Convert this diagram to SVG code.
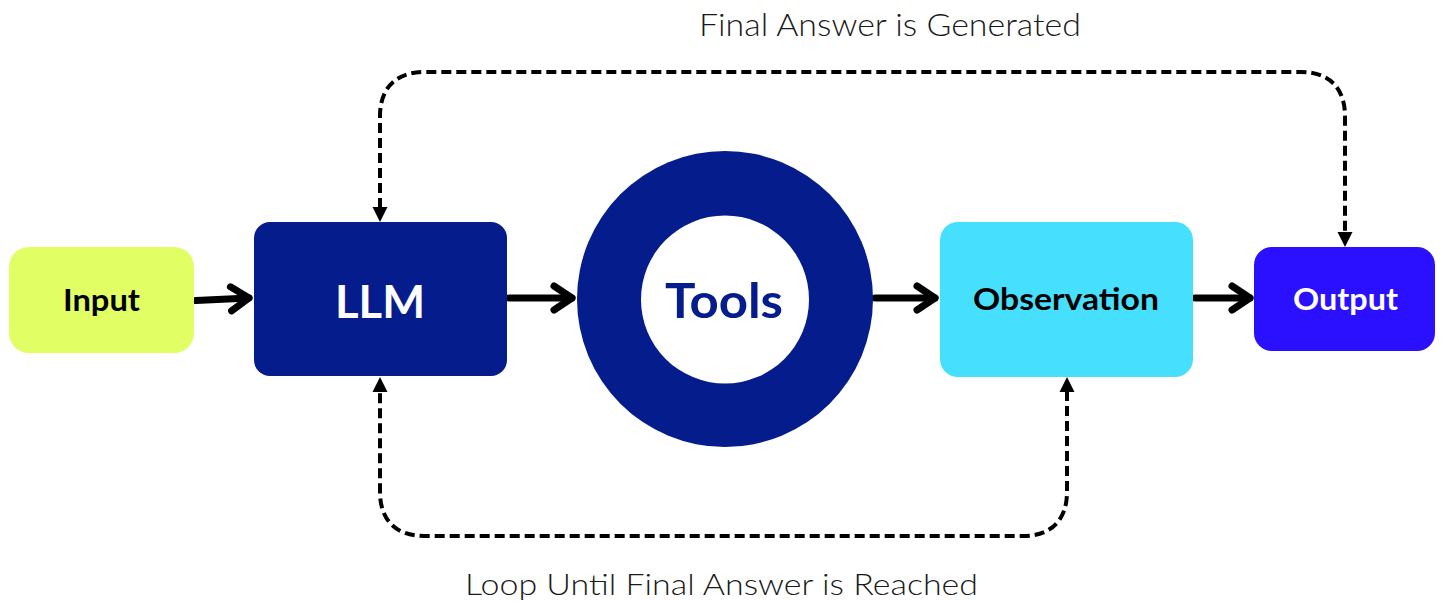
<svg xmlns="http://www.w3.org/2000/svg" width="1442" height="601" viewBox="0 0 1442 601">
<defs>
<style>
.lbl{font-family:Lato,"Noto Sans","Liberation Sans",sans-serif;font-weight:300;fill:#1a1a1a;}
.nt{font-family:Lato,"Noto Sans","Liberation Sans",sans-serif;font-weight:700;text-anchor:middle;}
.solid{fill:none;stroke:#000;stroke-width:7;stroke-linecap:round;stroke-linejoin:round;}
.dash{fill:none;stroke:#000;stroke-width:4;stroke-dasharray:10 5;}
.tri{fill:#000;}
</style>
<marker id="chev" markerUnits="userSpaceOnUse" viewBox="-22 -16 26 32" markerWidth="26" markerHeight="32" refX="0" refY="0" orient="auto">
<path d="M-18,-12 L0,0 L-18,12" fill="none" stroke="#000" stroke-width="7" stroke-linecap="round" stroke-linejoin="round"/>
</marker>
</defs>
<rect width="1442" height="601" fill="#fff"/>
<g id="connectors">
<path class="solid" d="M196,300.5 L249,298" marker-end="url(#chev)"/>
<path class="solid" d="M509,298 L572,298" marker-end="url(#chev)"/>
<path class="solid" d="M875,298 L935,298" marker-end="url(#chev)"/>
<path class="solid" d="M1195,298 L1250,298" marker-end="url(#chev)"/>
<path class="dash" d="M380,208 L380,116 C380,88 396,72 424,72 L1301,72 C1329,72 1345,88 1345,116 L1345,233"/>
<path class="dash" d="M1067,391 L1067,492 C1067,520 1051,536 1023,536 L424,536 C396,536 380,520 380,492 L380,391"/>
<path class="tri" d="M380,222 L372.5,207 L387.5,207 Z"/>
<path class="tri" d="M1345,247 L1337.5,232 L1352.5,232 Z"/>
<path class="tri" d="M380,377 L372.5,392 L387.5,392 Z"/>
<path class="tri" d="M1067,377 L1059.5,392 L1074.5,392 Z"/>
</g>
<g id="node-input">
<rect x="9" y="247" width="185" height="106" rx="20" fill="#e2fe65"/>
<text class="nt" x="101.5" y="311" font-size="30" fill="#000" textLength="77" lengthAdjust="spacingAndGlyphs">Input</text>
</g>
<g id="node-llm">
<rect x="254" y="222" width="253" height="154" rx="16" fill="#041c8c"/>
<text class="nt" x="380" y="318" font-size="46" fill="#fff" textLength="90" lengthAdjust="spacingAndGlyphs">LLM</text>
</g>
<g id="node-tools">
<circle cx="725" cy="299" r="148" fill="#041c8c"/>
<circle cx="725" cy="299.5" r="84" fill="#fff"/>
<text class="nt" x="724" y="318" font-size="48" fill="#041c8c" textLength="118" lengthAdjust="spacingAndGlyphs">Tools</text>
</g>
<g id="node-observation">
<rect x="940" y="222" width="253" height="155" rx="18" fill="#46dffe"/>
<text class="nt" x="1066" y="310" font-size="30" fill="#000" textLength="186" lengthAdjust="spacingAndGlyphs">Observation</text>
</g>
<g id="node-output">
<rect x="1254" y="247" width="181" height="104" rx="18" fill="#2a10ff"/>
<text class="nt" x="1345.5" y="310" font-size="30" fill="#fff" textLength="105" lengthAdjust="spacingAndGlyphs">Output</text>
</g>
<text class="lbl" x="699" y="36" font-size="31" textLength="382" lengthAdjust="spacingAndGlyphs">Final Answer is Generated</text>
<text class="lbl" x="465" y="595" font-size="30" textLength="513" lengthAdjust="spacingAndGlyphs">Loop Until Final Answer is Reached</text>
</svg>
